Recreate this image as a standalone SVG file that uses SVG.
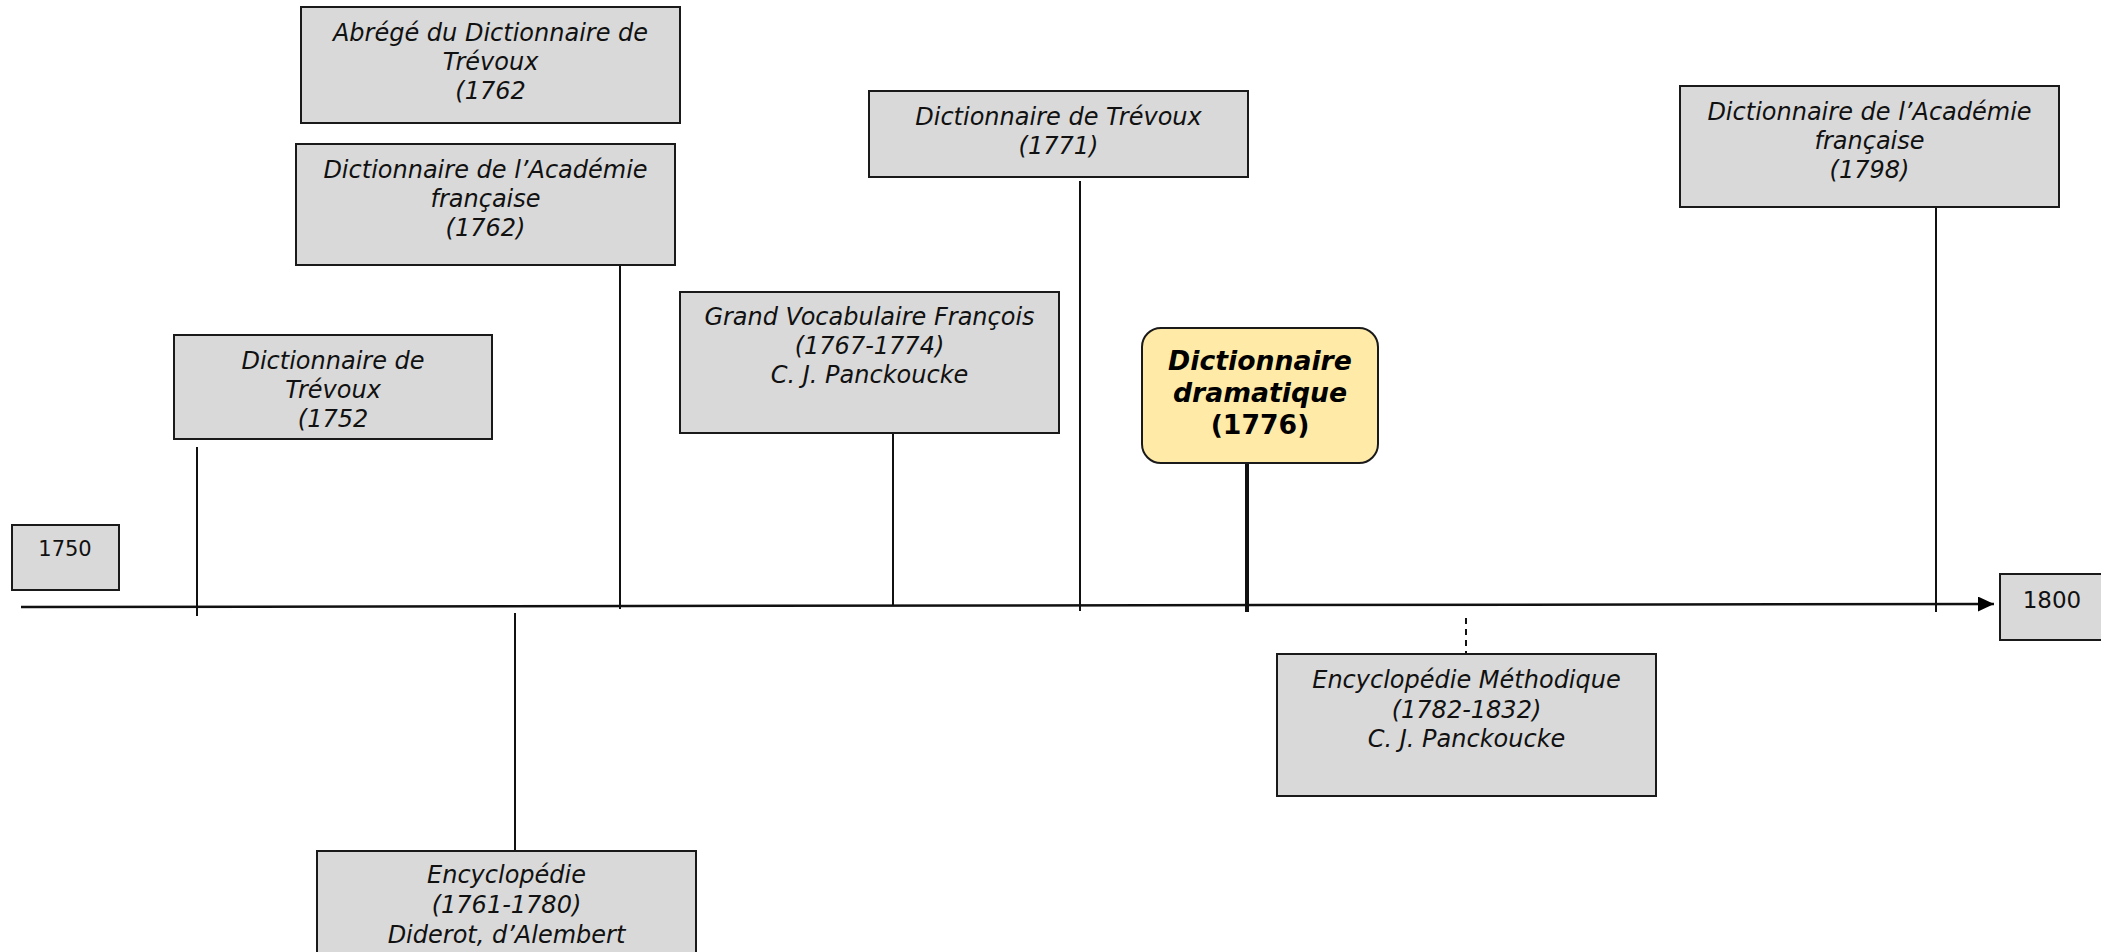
<svg xmlns="http://www.w3.org/2000/svg" width="2101" height="952" viewBox="0 0 2101 952">
<style>
.box{fill:#d9d9d9;stroke:#1a1a1a;stroke-width:2}
.t{font-family:"DejaVu Sans",Verdana,sans-serif;font-size:24px;font-style:italic;fill:#111;text-anchor:middle}
.y{font-family:"DejaVu Sans",Verdana,sans-serif;fill:#111;text-anchor:middle}
.b{font-family:"DejaVu Sans",Verdana,sans-serif;fill:#000;text-anchor:middle;font-size:26.7px;font-weight:bold}
.c{stroke:#111;fill:none}
</style>
<defs>
<marker id="arr" markerWidth="16" markerHeight="15" refX="16" refY="7.5" orient="auto" markerUnits="userSpaceOnUse">
<path d="M0,0 L16,7.5 L0,15 Z" fill="#000"/>
</marker>
</defs>
<rect width="2101" height="952" fill="#fff"/>
<g id="connectors">
<line class="c" x1="21" y1="607" x2="1994" y2="604" stroke-width="2.5" marker-end="url(#arr)"/>
<line class="c" x1="197" y1="447" x2="197" y2="616" stroke-width="2"/>
<line class="c" x1="620" y1="265" x2="620" y2="609" stroke-width="2"/>
<line class="c" x1="893" y1="428" x2="893" y2="606" stroke-width="2"/>
<line class="c" x1="1080" y1="181" x2="1080" y2="611" stroke-width="2"/>
<line class="c" x1="1247" y1="463" x2="1247" y2="612" stroke-width="4"/>
<line class="c" x1="1936" y1="207" x2="1936" y2="612" stroke-width="2"/>
<line class="c" x1="515" y1="613" x2="515" y2="853" stroke-width="2"/>
<line class="c" x1="1466" y1="618" x2="1466" y2="654" stroke-width="2" stroke-dasharray="6,5"/>
</g>
<g id="n1750">
<rect class="box" x="12" y="525" width="107" height="65"/>
<text class="y" x="65" y="556" font-size="21">1750</text>
</g>
<g id="n1800">
<rect class="box" x="2000" y="574" width="110" height="66"/>
<text class="y" x="2052" y="608" font-size="23">1800</text>
</g>
<g id="abrege">
<rect class="box" x="301" y="7" width="379" height="116"/>
<text class="t" x="490.5" y="41">Abrégé du Dictionnaire de</text>
<text class="t" x="490.5" y="70">Trévoux</text>
<text class="t" x="490.5" y="99">(1762</text>
</g>
<g id="academie1762">
<rect class="box" x="296" y="144" width="379" height="121"/>
<text class="t" x="485.5" y="178">Dictionnaire de l’Académie</text>
<text class="t" x="485.5" y="207">française</text>
<text class="t" x="485.5" y="236">(1762)</text>
</g>
<g id="trevoux1752">
<rect class="box" x="174" y="335" width="318" height="104"/>
<text class="t" x="333" y="369">Dictionnaire de</text>
<text class="t" x="333" y="398">Trévoux</text>
<text class="t" x="333" y="427">(1752</text>
</g>
<g id="grandvocabulaire">
<rect class="box" x="680" y="292" width="379" height="141"/>
<text class="t" x="869.5" y="325">Grand Vocabulaire François</text>
<text class="t" x="869.5" y="354">(1767-1774)</text>
<text class="t" x="869.5" y="383">C. J. Panckoucke</text>
</g>
<g id="trevoux1771">
<rect class="box" x="869" y="91" width="379" height="86"/>
<text class="t" x="1058.5" y="125">Dictionnaire de Trévoux</text>
<text class="t" x="1058.5" y="154">(1771)</text>
</g>
<g id="dramatique">
<rect x="1142" y="328" width="236" height="135" rx="19" ry="19" fill="#ffeaa7" stroke="#1a1a1a" stroke-width="2"/>
<text class="b" x="1260" y="370" style="font-style:italic">Dictionnaire</text>
<text class="b" x="1260" y="402" style="font-style:italic">dramatique</text>
<text class="b" x="1260" y="434">(1776)</text>
</g>
<g id="academie1798">
<rect class="box" x="1680" y="86" width="379" height="121"/>
<text class="t" x="1869.5" y="120">Dictionnaire de l’Académie</text>
<text class="t" x="1869.5" y="149">française</text>
<text class="t" x="1869.5" y="178">(1798)</text>
</g>
<g id="encyclopedie">
<rect class="box" x="317" y="851" width="379" height="120"/>
<text class="t" x="506.5" y="883">Encyclopédie</text>
<text class="t" x="506.5" y="913">(1761-1780)</text>
<text class="t" x="506.5" y="943">Diderot, d’Alembert</text>
</g>
<g id="methodique">
<rect class="box" x="1277" y="654" width="379" height="142"/>
<text class="t" x="1466.5" y="688">Encyclopédie Méthodique</text>
<text class="t" x="1466.5" y="718">(1782-1832)</text>
<text class="t" x="1466.5" y="747">C. J. Panckoucke</text>
</g>
</svg>
